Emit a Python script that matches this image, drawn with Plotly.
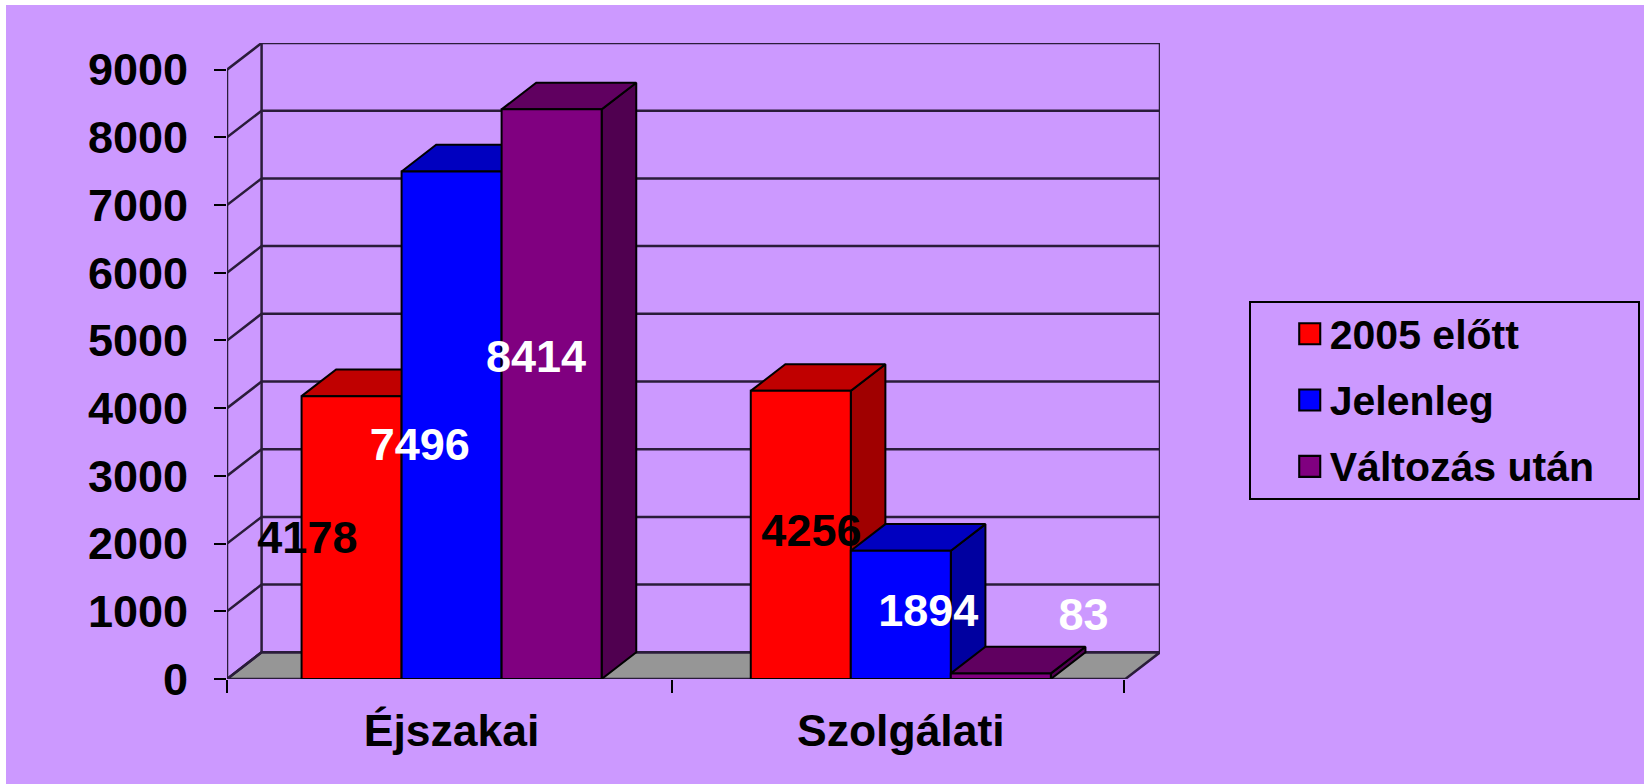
import plotly.graph_objects as go

categories = ["Éjszakai", "Szolgálati"]
series_names = ["2005 előtt", "Jelenleg", "Változás után"]
ejszakai_values = [4178, 7496, 8414]
szolgalati_values = [4256, 1894, 83]
values_2005 = [ejszakai_values[0], szolgalati_values[0]]
values_jelenleg = [ejszakai_values[1], szolgalati_values[1]]
values_valtozas = [ejszakai_values[2], szolgalati_values[2]]
y_ticks = [0, 1000, 2000, 3000, 4000, 5000, 6000, 7000, 8000, 9000]

# styling
front_colors = ["#FF0000", "#0000FF", "#800080"]
top_colors = ["#C00000", "#0000C0", "#600060"]
side_colors = ["#A00000", "#0000A0", "#500050"]
label_colors = ["#000000", "#FFFFFF", "#FFFFFF"]
BG = "#CC99FF"
WALL_LINE = "#2A1C3A"
FONT = "Liberation Sans"

# projection depth of the pseudo-3D box, in axis units
DX = 0.077
DY = 394
X0, X1 = -0.5, 1.5
BAR_W = 0.2227

# manually placed data labels in the reference (axis units), per series then category
label_x = [[-0.321, 0.801], [-0.071, 1.061], [0.188, 1.407]]
label_y = [[2028, 2138], [3408, 954], [4700, 888]]

series_values = [values_2005, values_jelenleg, values_valtozas]
fig = go.Figure()


def poly(polys):
    xs, ys = [], []
    for p in polys:
        xs += [q[0] for q in p] + [p[0][0], None]
        ys += [q[1] for q in p] + [p[0][1], None]
    return xs, ys


def add_poly(polys, fill, lw, lc, z):
    xs, ys = poly(polys)
    fig.add_trace(go.Scatter(x=xs, y=ys, mode="lines", fill="toself", fillcolor=fill,
                             line=dict(color=lc, width=lw), showlegend=False,
                             hoverinfo="skip", cliponaxis=False, zorder=z))


# floor
add_poly([[(X0, 0), (X1, 0), (X1 + DX, DY), (X0 + DX, DY)]], "#969696", 2.5, WALL_LINE, 0)

# walls: gridlines, diagonals, verticals
wx, wy = [], []
for v in y_ticks:
    wx += [X0, X0 + DX, X1 + DX, None]
    wy += [v, v + DY, v + DY, None]
wx += [X0, X0, None, X0 + DX, X0 + DX, None, X1 + DX, X1 + DX, None]
wy += [0, y_ticks[-1], None, DY, y_ticks[-1] + DY, None, DY, y_ticks[-1] + DY, None]
fig.add_trace(go.Scatter(x=wx, y=wy, mode="lines", line=dict(color=WALL_LINE, width=2.5),
                         showlegend=False, hoverinfo="skip", cliponaxis=False, zorder=1))

# bars, back-to-front by series
for j, vals in enumerate(series_values):
    tops, sides = [], []
    for i, v in enumerate(vals):
        c = i + (j - 1) * BAR_W
        l, r = c - BAR_W / 2, c + BAR_W / 2
        sides.append([(r, 0), (r + DX, DY), (r + DX, v + DY), (r, v)])
        tops.append([(l, v), (r, v), (r + DX, v + DY), (l + DX, v + DY)])
    z = 2 + j * 3
    add_poly(sides, side_colors[j], 2, "#000000", z)
    add_poly(tops, top_colors[j], 2, "#000000", z + 1)
    fig.add_trace(go.Bar(x=[0, 1], y=vals, name=series_names[j], legendgroup=series_names[j],
                         marker=dict(color=front_colors[j], line=dict(color="#000000", width=2)),
                         hoverinfo="x+y+name", zorder=z + 2))

# data labels
for j, vals in enumerate(series_values):
    fig.add_trace(go.Scatter(x=label_x[j], y=label_y[j], mode="text",
                             text=[str(v) for v in vals],
                             textposition="middle center",
                             textfont=dict(family=FONT, size=45, color=label_colors[j], weight=700),
                             showlegend=False, hoverinfo="skip", cliponaxis=False, zorder=20))

fig.update_layout(
    width=1638, height=779, autosize=False,
    margin=dict(l=221, r=484, t=38, b=105, pad=0),
    paper_bgcolor=BG, plot_bgcolor=BG,
    barmode="group", bargap=0.332, bargroupgap=0,
    xaxis=dict(range=[X0, X1 + DX], tickmode="array", tickvals=[0, 1], ticktext=categories,
               ticks="", showgrid=False, zeroline=False, showline=False,
               tickfont=dict(family=FONT, size=44.5, color="#000000", weight=700),
               ticklabelstandoff=21,
               minor=dict(tickmode="array", tickvals=[-0.5, 0.49, 1.497], ticks="outside",
                          ticklen=13, tickwidth=2, tickcolor="#000000", showgrid=False)),
    yaxis=dict(range=[0, y_ticks[-1] + DY], tickmode="array", tickvals=y_ticks,
               ticks="outside", ticklen=12, tickwidth=2, tickcolor="#000000",
               showgrid=False, zeroline=False, showline=False,
               tickfont=dict(family=FONT, size=45, color="#000000", weight=700),
               ticklabelstandoff=17),
    legend=dict(x=1.0951, xanchor="left", y=0.595, yanchor="top",
                bgcolor="rgba(0,0,0,0)", bordercolor="#000000", borderwidth=2,
                font=dict(family=FONT, size=41, color="#000000", weight=700),
                tracegroupgap=10, indentation=39, entrywidth=335, entrywidthmode="pixels",
                traceorder="grouped"),
)

post = """
document.body.style.margin='5px 0 0 6px';
document.body.style.background='#FFFFFF';
document.documentElement.style.overflow='hidden';
var gd = document.getElementById('{plot_id}');
function tuneLegend(){
  document.querySelectorAll('.legend .legendpoints path').forEach(function(p){
    p.setAttribute('transform','translate(20,1) scale(1.75)');
    p.style.transform='translate(20px,1px) scale(1.75)';
    p.style.strokeWidth='1.2px';
  });
  var bg = document.querySelector('.legend rect.bg');
  if(bg){bg.setAttribute('height','197');bg.setAttribute('width','389');}
  var sb = document.querySelector('.legend .scrollbox');
  if(sb){sb.setAttribute('transform','translate(0,-3)');}
  var cp = document.querySelectorAll('clipPath[id^="legend"] rect');
  cp.forEach(function(r){r.setAttribute('width','389');});
}
if(gd.on){gd.on('plotly_afterplot', tuneLegend);}
setTimeout(tuneLegend, 50);
setTimeout(tuneLegend, 300);
"""
fig.write_html("out.html", config={"displayModeBar": False}, post_script=post)
